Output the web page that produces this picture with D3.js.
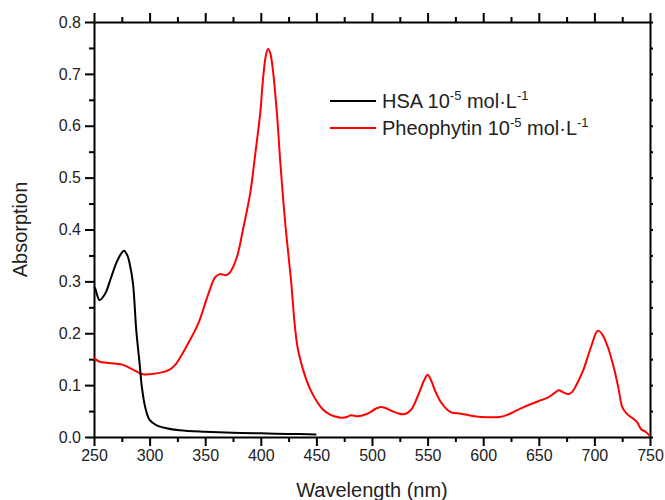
<!DOCTYPE html>
<html>
<head>
<meta charset="utf-8">
<script src="https://cdn.jsdelivr.net/npm/d3@7"></script>
<style>
  body { margin: 0; background: #fff; }
  svg { font-family: Arial, "Liberation Sans", sans-serif; }
  .tick text { font-size: 16px; fill: #222; }
  .domain, .tick line { stroke: #000; stroke-width: 2px; }
</style>
</head>
<body>
<div id="main"></div>
<script>
// HSA 10^-5 mol/L (black)
const hsaWl  = [250, 251, 255, 260, 265, 270, 274, 277, 280, 282, 285, 288, 291, 293, 296, 300, 306, 315, 327, 350, 375, 400, 425, 450];
const hsaAbs = [0.29, 0.287, 0.264, 0.276, 0.305, 0.335, 0.352, 0.359, 0.35, 0.335, 0.297, 0.206, 0.142, 0.097, 0.058, 0.033, 0.023, 0.017, 0.013, 0.010, 0.008, 0.007, 0.006, 0.005];

// Pheophytin 10^-5 mol/L (red)
const pheoWl  = [250, 255, 261, 270, 276, 285, 294, 300, 312, 318, 323, 333, 344, 353, 359, 363, 369, 372.5, 378.5, 384, 390.5, 395, 399.5, 402, 404.5, 406.5, 408.5, 411, 414.5, 417.6, 422, 427, 433, 441, 446, 450.6, 455, 460, 466, 473, 478, 481, 487, 492, 497, 503, 508, 512, 517, 523, 529, 535, 541, 547, 550, 553, 557, 562, 568, 572, 580, 592, 604, 616, 622, 628, 637, 646, 652, 658, 663, 668, 672, 677, 680, 683, 690, 697, 703, 707, 712, 718, 722, 725, 729, 733, 737, 739, 742, 746, 750];
const pheoAbs = [0.152, 0.145, 0.143, 0.141, 0.139, 0.13, 0.121, 0.121, 0.125, 0.13, 0.139, 0.174, 0.22, 0.277, 0.308, 0.314, 0.312, 0.318, 0.347, 0.40, 0.47, 0.545, 0.625, 0.69, 0.735, 0.748, 0.74, 0.705, 0.624, 0.528, 0.412, 0.306, 0.174, 0.11, 0.085, 0.068, 0.055, 0.046, 0.04, 0.037, 0.039, 0.042, 0.040, 0.042, 0.046, 0.054, 0.058, 0.056, 0.051, 0.046, 0.044, 0.052, 0.078, 0.11, 0.12, 0.11, 0.088, 0.067, 0.052, 0.047, 0.045, 0.04, 0.038, 0.039, 0.043, 0.049, 0.058, 0.066, 0.071, 0.076, 0.083, 0.09, 0.086, 0.083, 0.087, 0.097, 0.129, 0.174, 0.205, 0.198, 0.174, 0.129, 0.09, 0.058, 0.045, 0.038, 0.032, 0.027, 0.015, 0.01, 0.002];

const xTicks = [250, 300, 350, 400, 450, 500, 550, 600, 650, 700, 750];
const yTicks = [0, 0.1, 0.2, 0.3, 0.4, 0.5, 0.6, 0.7, 0.8];

const width = 665, height = 500;
const margin = {top: 22, right: 15, bottom: 63, left: 94};

const svg = d3.select('#main').append('svg')
  .attr('width', width)
  .attr('height', height);

const x = d3.scaleLinear().domain([250, 750]).range([margin.left, width - margin.right]);
const y = d3.scaleLinear().domain([0, 0.8]).range([height - margin.bottom, margin.top]);

const xMinor = d3.range(275, 750, 50);
const yMinor = d3.range(0.05, 0.8, 0.1);

// minor ticks first, majors on top
function minor(g, axis) { g.call(axis).call(s => s.select('.domain').remove()).selectAll('text').remove(); }

svg.append('g').attr('transform', `translate(0,${y(0)})`)
  .call(g => minor(g, d3.axisBottom(x).tickValues(xMinor).tickSize(5)));
svg.append('g').attr('transform', `translate(0,${y(0.8)})`)
  .call(g => minor(g, d3.axisTop(x).tickValues(xMinor).tickSize(5)));
svg.append('g').attr('transform', `translate(${x(250)},0)`)
  .call(g => minor(g, d3.axisLeft(y).tickValues(yMinor).tickSize(5)));
svg.append('g').attr('transform', `translate(${x(750)},0)`)
  .call(g => minor(g, d3.axisRight(y).tickValues(yMinor).tickSize(3)));

svg.append('g').attr('transform', `translate(0,${y(0)})`)
  .call(d3.axisBottom(x).tickValues(xTicks).tickSize(9).tickSizeOuter(0).tickPadding(4).tickFormat(d3.format('d')));
svg.append('g').attr('transform', `translate(0,${y(0.8)})`)
  .call(d3.axisTop(x).tickValues(xTicks).tickSize(9).tickSizeOuter(0).tickFormat(''));
svg.append('g').attr('transform', `translate(${x(250)},0)`)
  .call(d3.axisLeft(y).tickValues(yTicks).tickSize(9).tickSizeOuter(0).tickPadding(4).tickFormat(d3.format('.1f')));
svg.append('g').attr('transform', `translate(${x(750)},0)`)
  .call(d3.axisRight(y).tickValues(yTicks).tickSize(3).tickSizeOuter(0).tickFormat(''));

const line = d3.line()
  .x(d => x(d[0]))
  .y(d => y(d[1]))
  .curve(d3.curveCatmullRom.alpha(0.5));

svg.append('path')
  .datum(d3.zip(pheoWl, pheoAbs))
  .attr('fill', 'none')
  .attr('stroke', '#ff0000')
  .attr('stroke-width', 2)
  .attr('d', line);

svg.append('path')
  .datum(d3.zip(hsaWl, hsaAbs))
  .attr('fill', 'none')
  .attr('stroke', '#000')
  .attr('stroke-width', 2)
  .attr('d', line);

// axis titles
svg.append('text')
  .attr('x', (x(250) + x(750)) / 2)
  .attr('y', 497)
  .attr('text-anchor', 'middle')
  .attr('font-size', 20)
  .attr('fill', '#222')
  .text('Wavelength (nm)');

svg.append('text')
  .attr('transform', `translate(27,${(y(0) + y(0.8)) / 2}) rotate(-90)`)
  .attr('text-anchor', 'middle')
  .attr('font-size', 20)
  .attr('fill', '#222')
  .text('Absorption');

// legend
const legend = [
  {name: 'HSA', color: '#000'},
  {name: 'Pheophytin', color: '#ff0000'}
];

const lg = svg.selectAll('.legend')
  .data(legend)
  .join('g')
  .attr('class', 'legend')
  .attr('transform', (d, i) => `translate(330,${101 + i * 27})`);

lg.append('line')
  .attr('x1', 0).attr('x2', 46)
  .attr('stroke', d => d.color)
  .attr('stroke-width', 2);

const lt = lg.append('text')
  .attr('x', 52)
  .attr('y', 7)
  .attr('font-size', 20)
  .attr('fill', '#222');
lt.append('tspan').text(d => d.name + ' 10');
lt.append('tspan').attr('font-size', 13).attr('dy', -8).text('-5');
lt.append('tspan').attr('dy', 8).text(' mol·L');
lt.append('tspan').attr('font-size', 13).attr('dy', -8).text('-1');
</script>
</body>
</html>
